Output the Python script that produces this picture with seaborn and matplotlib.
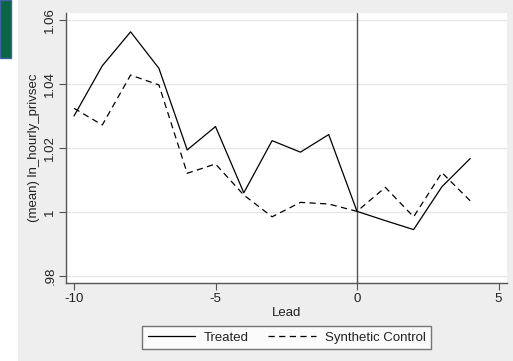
import numpy as np
import pandas as pd
import matplotlib
matplotlib.use('Agg')
import matplotlib.pyplot as plt
from matplotlib.patches import Rectangle
from matplotlib.lines import Line2D
import seaborn as sns

# values
lead = [-10, -9, -8, -7, -6, -5, -4, -3, -2, -1, 0, 1, 2, 3, 4]
treated = [1.0300, 1.0457, 1.0563, 1.0449, 1.0194, 1.0267, 1.0060, 1.0223,
           1.0187, 1.0242, 1.0002, 0.9973, 0.9945, 1.0079, 1.0167]
synthetic = [1.0324, 1.0272, 1.0428, 1.0397, 1.0121, 1.0150, 1.0053, 0.9985,
             1.0030, 1.0025, 1.0002, 1.0077, 0.9985, 1.0123, 1.0035]
series_names = ['Treated', 'Synthetic Control']
y_ticks = [0.98, 1.0, 1.02, 1.04, 1.06]
y_ticklabels = ['.98', '1', '1.02', '1.04', '1.06']
x_ticks = [-10, -5, 0, 5]

df = pd.DataFrame({
    'Lead': lead * 2,
    'value': treated + synthetic,
    'series': [series_names[0]] * len(lead) + [series_names[1]] * len(lead),
})

sns.set_style('white')
plt.rcParams['font.family'] = ['Liberation Sans', 'DejaVu Sans']
fs = 9.5

W, H = 513, 361
fig = plt.figure(figsize=(W / 100, H / 100), dpi=100)
fig.patch.set_facecolor('white')
# stata graph region + stray green box in the corner
fig.add_artist(Rectangle((18 / W, 0), 1 - 18 / W, 1, transform=fig.transFigure,
                         facecolor='#eeeeee', edgecolor='none', zorder=0))
fig.add_artist(Rectangle((0, 1 - 58 / H), 11 / W, 58 / H, transform=fig.transFigure,
                         facecolor='#0b6545', edgecolor='#4060a8', linewidth=1.0, zorder=1))

ax = fig.add_axes([66 / W, (H - 283) / H, 441 / W, 270 / H])
ax.set_facecolor('white')

for y in y_ticks:
    ax.axhline(y, color='#e6e6e6', linewidth=1.0, zorder=0)
ax.axvline(0, color='#555555', linewidth=1.0, zorder=1)

sns.lineplot(data=df, x='Lead', y='value', style='series', style_order=series_names,
             dashes={'Treated': '', 'Synthetic Control': (5, 3.5)},
             color='black', linewidth=0.9, ax=ax, legend=False, zorder=3)

ax.set_xlim(-10.283, 5.30)
ax.set_ylim(0.97781, 1.06219)
ax.set_xticks(x_ticks)
ax.set_xticklabels([str(t) for t in x_ticks])
ax.set_yticks(y_ticks)
ax.set_yticklabels(y_ticklabels, rotation=90, va='center')
ax.tick_params(axis='both', direction='out', length=5, width=0.8, color='#555555',
               labelsize=fs, labelcolor='#222222', pad=2)
ax.tick_params(axis='x', bottom=True)
ax.tick_params(axis='y', left=True)

for s in ['top', 'right']:
    ax.spines[s].set_visible(False)
for s in ['left', 'bottom']:
    ax.spines[s].set_color('#555555')
    ax.spines[s].set_linewidth(1.0)

ax.set_xlabel('Lead', fontsize=fs, color='#222222', labelpad=2)
ax.set_ylabel('(mean) ln_hourly_privsec', fontsize=fs, color='#222222', labelpad=3)

handles = [Line2D([], [], color='black', linewidth=0.9),
           Line2D([], [], color='black', linewidth=0.9, dashes=(5, 3.5))]
leg = fig.legend(handles, series_names, ncol=2, loc='center',
                 bbox_to_anchor=(286.5 / W, 1 - 337.5 / H), frameon=True,
                 fancybox=False, fontsize=fs, handlelength=3.6, handletextpad=0.65,
                 columnspacing=1.5, borderpad=0.4, borderaxespad=0)
leg.get_frame().set_edgecolor('#555555')
leg.get_frame().set_linewidth(1.0)
leg.get_frame().set_facecolor('white')
for t in leg.get_texts():
    t.set_color('#222222')

fig.savefig('out.png', dpi=100)
